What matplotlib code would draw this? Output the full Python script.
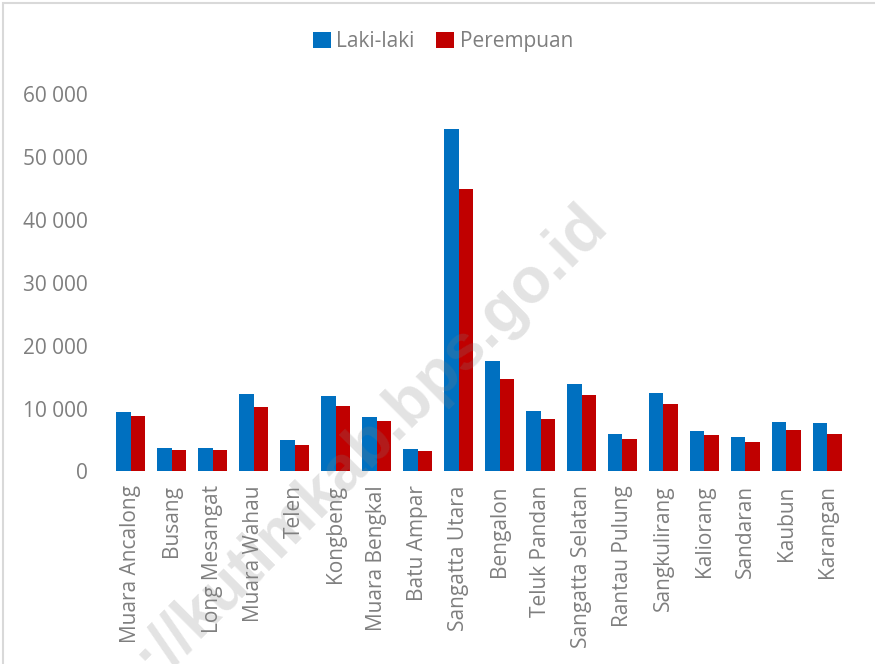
"""
Jumlah penduduk per kecamatan menurut jenis kelamin, Kutai Timur
"""
import matplotlib as mpl
mpl.use('Agg')
import matplotlib.pyplot as plt
import matplotlib.patches as mpatches
import matplotlib.ticker as mticker
import numpy as np

plt.rc('font', family=['Open Sans', 'DejaVu Sans'])

kecamatan = ['Muara Ancalong', 'Busang', 'Long Mesangat', 'Muara Wahau', 'Telen',
             'Kongbeng', 'Muara Bengkal', 'Batu Ampar', 'Sangatta Utara', 'Bengalon',
             'Teluk Pandan', 'Sangatta Selatan', 'Rantau Pulung', 'Sangkulirang',
             'Kaliorang', 'Sandaran', 'Kaubun', 'Karangan']

laki_laki = [9510, 3740, 3740, 12330, 4960, 12060, 8620, 3630, 54430, 17530,
             9580, 13970, 5960, 12490, 6440, 5490, 7920, 7710]

perempuan = [8780, 3420, 3370, 10260, 4210, 10420, 8030, 3310, 44930, 14710,
             8400, 12120, 5170, 10740, 5760, 4690, 6600, 5960]

yticks = [0, 10000, 20000, 30000, 40000, 50000, 60000]

col_laki = '#0070C0'
col_pr   = '#C00000'
col_txt  = '#7f7f7f'

# -----------------------------------------------------------
fig = plt.figure(figsize=(8.75, 6.64), dpi=100)
ax = fig.add_axes([0.126, 0.29, 0.843, 0.568])

x = np.arange(len(kecamatan))
w = 0.354
ax.bar(x - w/2, laki_laki, width=w, color=col_laki, label='Laki-laki')
ax.bar(x + w/2, perempuan, width=w, color=col_pr, label='Perempuan')

ax.set_xlim(-0.5, len(kecamatan) - 0.5)
ax.set_ylim(0, 60000)
ax.set_yticks(yticks)
ax.yaxis.set_major_formatter(mticker.FuncFormatter(lambda v, p: f'{int(v):,}'.replace(',', ' ')))
ax.set_xticks(x)
ax.set_xticklabels(kecamatan, rotation=90)
ax.tick_params(axis='y', length=0, pad=16, labelsize=15, labelcolor=col_txt)
ax.tick_params(axis='x', length=0, pad=10, labelsize=15, labelcolor=col_txt)
for s in ax.spines.values():
    s.set_visible(False)

# Legend on top
fig.legend(loc='center', bbox_to_anchor=(0.506, 0.9375), ncol=2, frameon=False,
           fontsize=15, labelcolor=col_txt, handlelength=0.87, handleheight=0.8,
           handletextpad=0.25, columnspacing=1.05)

# Outer frame of the chart area
fig.add_artist(mpatches.Rectangle((3/875, -0.2), 1.5, 1.2 - 3/664 + 0.0, transform=fig.transFigure,
                                  fill=False, edgecolor='#d9d9d9', linewidth=1.5))

# Watermark
fig.text(597/875, 1 - 215/664, 'https://kutimkab.bps.go.id', transform=fig.transFigure,
         family='Liberation Sans', fontweight='bold', fontsize=46, color='#808080', alpha=0.22,
         rotation=45, rotation_mode='anchor', ha='right', va='center')

plt.savefig('out.png', dpi=100)
plt.close(fig)
